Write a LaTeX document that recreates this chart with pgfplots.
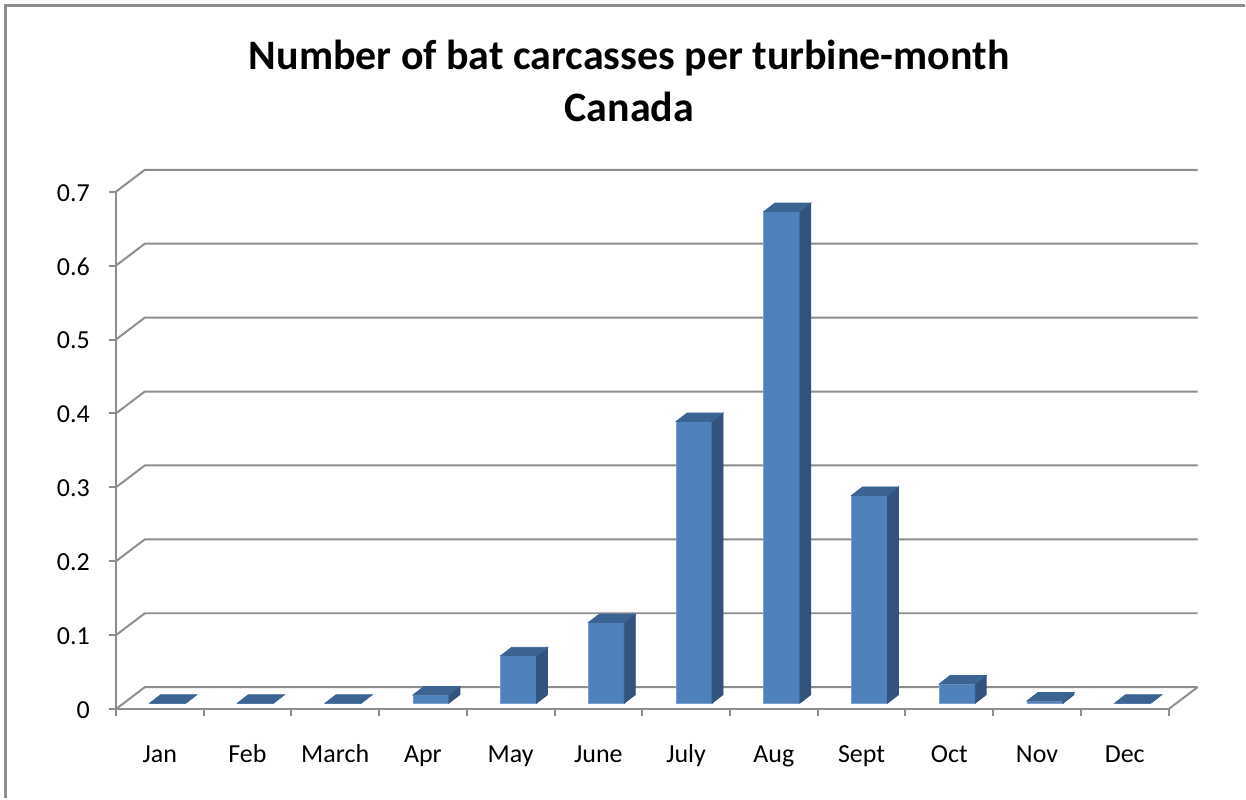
\documentclass[border=0pt]{standalone}
\usepackage{pgfplots}
\pgfplotsset{compat=1.18}
\usepackage{pgfplotstable}
\usepackage{fontspec}
\setmainfont{Carlito}
\definecolor{barfront}{HTML}{4F81BD}
\definecolor{barside}{HTML}{32537C}
\definecolor{bartop}{HTML}{3B6493}
\definecolor{gridgray}{HTML}{8E8E8E}
\pgfdeclareplotmark{blank}{}
\pgfplotstableread{
x y
0.5 0
1.5 0
2.5 0
3.5 0.011
4.5 0.064
5.5 0.109
6.5 0.381
7.5 0.665
8.5 0.281
9.5 0.026
10.5 0.003
11.5 0
}\bats
\begin{document}
\begin{tikzpicture}
\path (0,0) rectangle (623pt,399.5pt);
\draw[gridgray, line width=1.5pt] (3pt,0) -- (3pt,396.5pt) -- (623pt,396.5pt);
\node[font=\fontsize{21}{25}\selectfont\bfseries] at (315pt,370.5pt) {Number of bat carcasses per turbine-month};
\node[font=\fontsize{21}{25}\selectfont\bfseries] at (315pt,346pt) {Canada};
\begin{axis}[
  at={(58pt,44.5pt)}, anchor=south west,
  x=43.917pt, y=370pt,
  xmin=0, xmax=12, ymin=0, ymax=0.7,
  clip=false,
  axis lines*=left,
  axis line style={gridgray, line width=1pt},
  tick align=outside,
  major tick length=3.5pt,
  tick style={gridgray, line width=1pt},
  ytick={0,0.1,0.2,0.3,0.4,0.5,0.6,0.7},
  yticklabels={0,0.1,0.2,0.3,0.4,0.5,0.6,0.7},
  yticklabel style={font=\fontsize{13}{15}\selectfont, xshift=-6pt, yshift=-0.5pt},
  xtick={0,1,...,12},
  xticklabels={},
  extra x ticks={0.5,1.5,...,11.5},
  extra x tick labels={Jan,Feb,March,Apr,May,June,July,Aug,Sept,Oct,Nov,Dec},
  extra x tick style={major tick length=0pt, tick style={draw=none}},
  xticklabel style={font=\fontsize{13}{15}\selectfont, text height=1.6ex, text depth=0.5ex, yshift=-15.5pt},
]
\pgfplotsinvokeforeach{0,0.1,0.2,0.3,0.4,0.5,0.6,0.7}{
  \draw[gridgray, line width=1pt] (axis cs:0,#1) -- ([shift={(14.5pt,11pt)}]axis cs:0,#1) -- ([shift={(14.5pt,11pt)}]axis cs:12,#1);
}
\draw[gridgray, line width=1pt] (axis cs:12,0) -- ([shift={(14.5pt,11pt)}]axis cs:12,0);
\addplot[ybar, bar width=18pt, fill=barfront, draw=barfront!75!white, line width=0.4pt, xshift=4pt, yshift=3pt] table[x=x,y=y]{\bats};
\addplot[scatter, only marks, mark=blank, point meta=y,
  visualization depends on={y \as \bary},
  scatter/@pre marker code/.code={%
    \pgfmathsetmacro{\hh}{\bary*370}%
    \fill[barside] (13pt,3pt) -- (18.5pt,7.25pt) -- (18.5pt,7.25pt-\hh pt) -- (13pt,3pt-\hh pt) -- cycle;
    \fill[bartop] (-5pt,3pt) -- (13pt,3pt) -- (18.5pt,7.25pt) -- (0.5pt,7.25pt) -- cycle;
  },
  scatter/@post marker code/.code={}] table[x=x,y=y]{\bats};
\end{axis}
\end{tikzpicture}
\end{document}
